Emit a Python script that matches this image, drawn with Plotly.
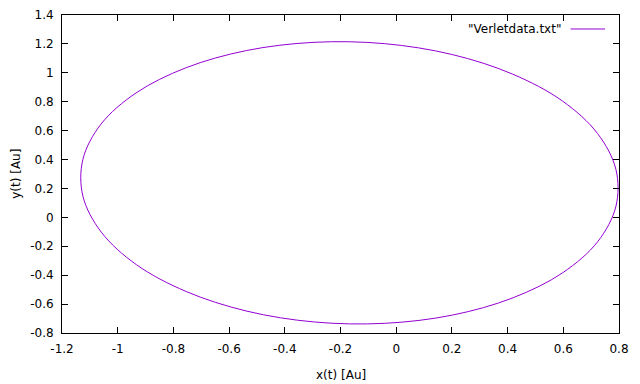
import plotly.graph_objects as go

# Orbit points (x(t), y(t) in Au)
x_vals = [-0.756, -0.538, -0.295, -0.043, 0.200, 0.418, 0.597, 0.723, 0.789, 0.789,
          0.724, 0.598, 0.420, 0.202, -0.041, -0.293, -0.536, -0.754, -0.933, -1.059,
          -1.125, -1.125, -1.060, -0.934, -0.756]
y_vals = [1.034, 1.154, 1.211, 1.202, 1.127, 0.991, 0.805, 0.580, 0.331, 0.077,
          -0.167, -0.383, -0.556, -0.676, -0.733, -0.724, -0.649, -0.513, -0.327, -0.102,
          0.147, 0.401, 0.645, 0.861, 1.034]

x_ticks = [-1.2, -1.0, -0.8, -0.6, -0.4, -0.2, 0.0, 0.2, 0.4, 0.6, 0.8]
x_tick_labels = ["-1.2", "-1", "-0.8", "-0.6", "-0.4", "-0.2", "0", "0.2", "0.4", "0.6", "0.8"]
y_ticks = [-0.8, -0.6, -0.4, -0.2, 0.0, 0.2, 0.4, 0.6, 0.8, 1.0, 1.2, 1.4]
y_tick_labels = ["-0.8", "-0.6", "-0.4", "-0.2", "0", "0.2", "0.4", "0.6", "0.8", "1", "1.2", "1.4"]

series_name = '"Verletdata.txt"'
x_title = "x(t) [Au]"
y_title = "y(t) [Au]"
line_color = "#9400D3"
font_family = "DejaVu Sans"

fig = go.Figure()
fig.add_trace(go.Scatter(
    x=x_vals, y=y_vals, mode="lines",
    line=dict(color=line_color, width=1, shape="spline", smoothing=1.0),
    name=series_name, showlegend=False, hoverinfo="skip",
))

axis_common = dict(
    showgrid=False, zeroline=False, showline=True, linecolor="black", linewidth=1,
    mirror="ticks", ticks="inside", ticklen=6, tickcolor="black", tickwidth=1,
    tickfont=dict(family=font_family, size=12, color="black"),
    automargin=False,
)

# the page body adds an 8px offset, so margins are compensated for it
fig.update_layout(
    width=640, height=384,
    margin=dict(l=53.5, r=28.5, t=6.5, b=59),
    paper_bgcolor="white", plot_bgcolor="white",
    font=dict(family=font_family, size=12, color="black"),
    xaxis=dict(range=[-1.2, 0.8], tickvals=x_ticks, ticktext=x_tick_labels,
               ticklabelstandoff=5, **axis_common),
    yaxis=dict(range=[-0.8, 1.4], tickvals=y_ticks, ticktext=y_tick_labels,
               ticklabelstandoff=5, **axis_common),
    showlegend=False,
)

# axis titles
fig.add_annotation(xref="paper", yref="paper", x=0.5, y=-0.131, text=x_title,
                   showarrow=False, xanchor="center", yanchor="middle",
                   font=dict(family=font_family, size=12, color="black"))
fig.add_annotation(xref="paper", yref="paper", x=-0.083, y=0.5, text=y_title, textangle=-90,
                   showarrow=False, xanchor="center", yanchor="middle",
                   font=dict(family=font_family, size=12, color="black"))

# gnuplot-style key: text on the left, line sample on the right
fig.add_annotation(xref="paper", yref="paper", x=0.8987, y=0.956,
                   text=series_name, showarrow=False, xanchor="right", yanchor="middle",
                   font=dict(family=font_family, size=12, color="black"))
fig.add_shape(type="line", xref="paper", yref="paper", x0=0.913, x1=0.975, y0=0.956, y1=0.956,
              line=dict(color=line_color, width=1))

fig.write_html("out.html")
